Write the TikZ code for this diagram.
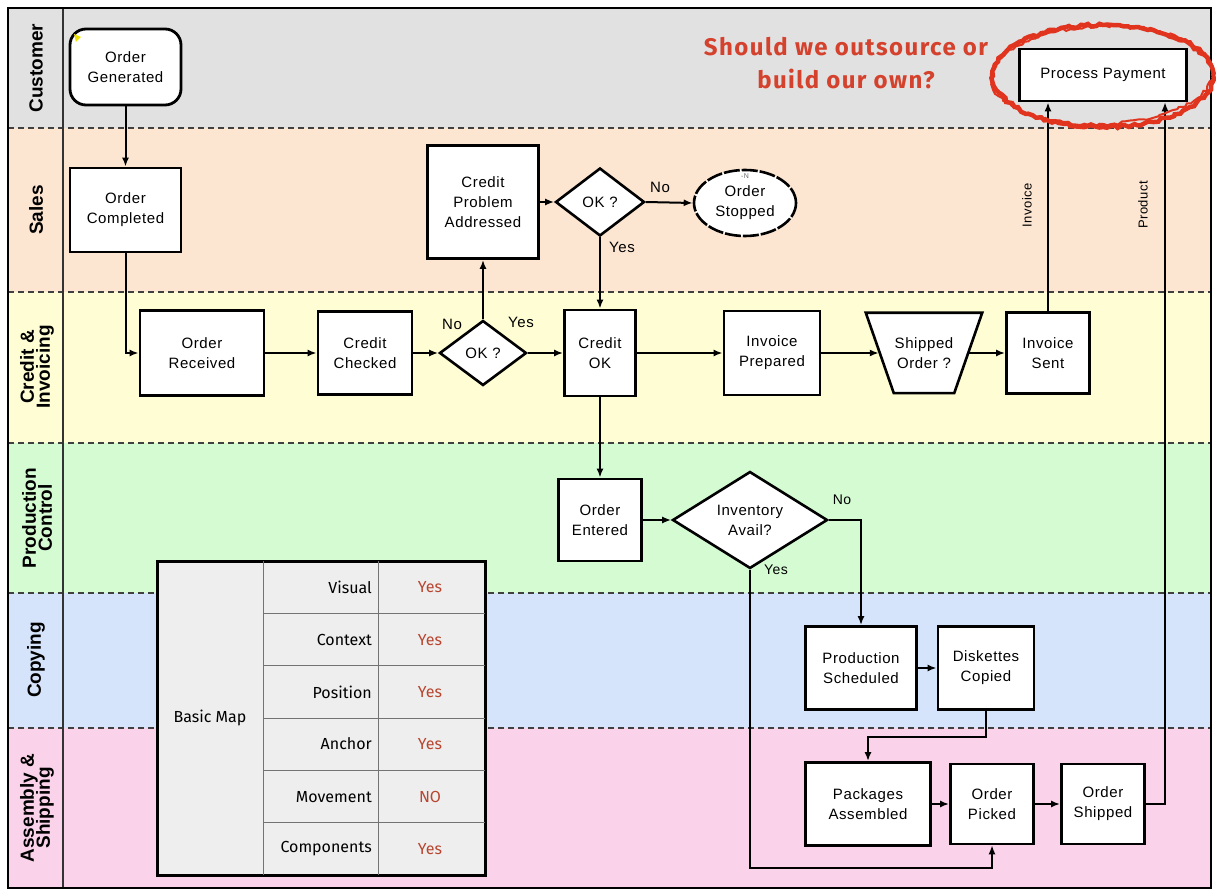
\documentclass[tikz,border=0pt]{standalone}
\usepackage{fontspec}
\usetikzlibrary{shapes.geometric,arrows.meta,decorations.pathmorphing}
\newfontfamily\nodefont{Liberation Sans}[LetterSpace=4]
\newfontfamily\lanefont{Liberation Sans}[LetterSpace=0]
\newfontfamily\handfont{Fira Sans}
\newfontfamily\handwide{Fira Sans}[LetterSpace=6]
\definecolor{laneA}{HTML}{E1E1E1}
\definecolor{laneB}{HTML}{FCE6D2}
\definecolor{laneC}{HTML}{FEFDD3}
\definecolor{laneD}{HTML}{D5FBD3}
\definecolor{laneE}{HTML}{D5E4FA}
\definecolor{laneF}{HTML}{FAD2E9}
\definecolor{handred}{HTML}{D4412C}
\definecolor{ringred}{HTML}{E0341F}
\definecolor{tabred}{HTML}{B8452F}
\definecolor{tabgray}{HTML}{EEEEEE}
\tikzset{
  nfont/.style={font=\nodefont\fontsize{15}{20}\selectfont},
  box/.style={draw, line width=2.8pt, fill=white, align=center, nfont, inner sep=1pt},
  rbox/.style={box, rounded corners=16pt},
  dia/.style={draw, diamond, line width=2.6pt, fill=white, align=center, nfont, inner sep=0pt},
  ell/.style={draw, ellipse, line width=2.6pt, fill=white, align=center, nfont, inner sep=0pt, dash pattern=on 16pt off 2pt},
  traptext/.style={align=center, nfont, inner sep=0pt},
  trapline/.style={draw, line width=2.6pt, fill=white, line join=miter},
  conn/.style={line width=2pt, -{Latex[length=9pt,width=7pt]}},
  thinconn/.style={line width=1.4pt, -{Latex[length=9pt,width=7pt]}},
  lbl/.style={nfont, inner sep=0pt},
  sidelbl/.style={font=\nodefont\fontsize{13}{15}\selectfont, rotate=90, inner sep=0pt},
  lanelbl/.style={font=\lanefont\bfseries\fontsize{19}{19}\selectfont, rotate=90, align=center, inner sep=0pt},
  lanesep/.style={line width=1.4pt, dash pattern=on 6pt off 4pt, draw=black!75},
  tabtxt/.style={font=\handfont\fontsize{16}{18}\selectfont, inner sep=0pt},
  tabval/.style={tabtxt, text=tabred},
  sketch/.style={draw=ringred, line width=4.5pt, decorate, decoration={random steps, segment length=4pt, amplitude=1.5pt}}
}
\begin{document}
\begin{tikzpicture}[x=1pt,y=-1pt]
\useasboundingbox (0,0) rectangle (1216,890);
% lanes
\fill[laneA] (8,8) rectangle (1211,128);
\fill[laneB] (8,128) rectangle (1211,292);
\fill[laneC] (8,292) rectangle (1211,443);
\fill[laneD] (8,443) rectangle (1211,593);
\fill[laneE] (8,593) rectangle (1211,728);
\fill[laneF] (8,728) rectangle (1211,888);
\foreach \yy in {128,292,443,593,728} \draw[lanesep] (8,\yy) -- (1211,\yy);
\draw[line width=1.3pt, draw=black!80] (63,8) -- (63,888);
\draw[line width=2.6pt] (8,8) rectangle (1211,888);
% lane labels
\node[lanelbl] (lc) at (36,68) {Customer};
\node[lanelbl] (ls) at (36,210) {Sales};
\node[lanelbl] (lci) at (37,367) {Credit \&\\[-3pt]Invoicing};
\node[lanelbl] (lpc) at (37,518) {Production\\[-3pt]Control};
\node[lanelbl] (lcp) at (36,660) {Copying};
\node[lanelbl] (las) at (37,808) {Assembly \&\\[-3pt]Shipping};

% nodes
\node[rbox, minimum width=111, minimum height=76] (og) at (125.5,67) {Order\\Generated};
\fill[yellow!85!olive] (74,34) -- (81,37) -- (76,42) -- cycle;
\node[box, minimum width=111, minimum height=84] (oc) at (125.5,210) {Order\\Completed};
\node[box, minimum width=124, minimum height=85] (orx) at (202,353) {Order\\Received};
\node[box, minimum width=94, minimum height=83] (cc) at (365,353) {Credit\\Checked};
\node[dia, minimum width=87, minimum height=65] (ok1) at (483,353) {OK ?};
\node[box, minimum width=111, minimum height=113] (cpa) at (483,202) {Credit\\Problem\\Addressed};
\node[dia, minimum width=89, minimum height=68] (ok2) at (600,202) {OK ?};
\node[ell, minimum width=102, minimum height=66] (os) at (745,203) {Order\\Stopped};
\node[font=\nodefont\fontsize{7}{7}\selectfont, text=black!60, inner sep=0pt] (osn) at (745,176) {-N};
\node[box, minimum width=71, minimum height=86] (cok) at (600,353) {Credit\\OK};
\node[box, minimum width=96, minimum height=84] (ip) at (772,353) {Invoice\\Prepared};
% trapezoid (top 116 wide, bottom 60 wide, 80 high)
\node[traptext, minimum width=116, minimum height=80] (so) at (924,353) {};
\draw[trapline] (so.north west) -- (so.north east) -- ([xshift=-28pt]so.south east) -- ([xshift=28pt]so.south west) -- cycle;
\node[traptext] (sot) at (so.center) {Shipped\\Order ?};
\node[box, minimum width=83, minimum height=81] (is) at (1048,353) {Invoice\\Sent};
\node[box, minimum width=167, minimum height=52] (pp) at (1103,75) {Process Payment};
\node[box, minimum width=83, minimum height=82] (oe) at (600,520) {Order\\Entered};
\node[dia, minimum width=155, minimum height=87] (inv) at (750,520) {Inventory\\Avail?};
\node[box, minimum width=111, minimum height=83] (ps) at (861,668) {Production\\Scheduled};
\node[box, minimum width=96, minimum height=83] (dc) at (986,668) {Diskettes\\Copied};
\node[box, minimum width=125, minimum height=83] (pa) at (868,804) {Packages\\Assembled};
\node[box, minimum width=83, minimum height=80] (opk) at (992,804) {Order\\Picked};
\node[box, minimum width=83, minimum height=80] (osh) at (1103,804) {Order\\Shipped};

% coordinates for bends
\coordinate (yc) at (992,868);
\coordinate (dk) at (986,737);
\coordinate (pr) at (1165,804);

% connectors
\draw[conn] (og) -- (oc);
\draw[conn] (oc.south) |- (orx.west);
\draw[conn] (orx) -- (cc);
\draw[conn] (cc) -- (ok1);
\draw[conn] (ok1) -- (cok);
\draw[conn] (ok1.north) -- (cpa.south);
\draw[conn] (cpa.east) -- (ok2.west);
\draw[conn] (ok2.east) -- (os.west);
\draw[conn] (ok2.south) -- (cok.north);
\draw[conn] (cok) -- (ip);
\draw[conn] (ip.east) -- ([xshift=13pt]so.west);
\draw[conn] ([xshift=-13pt]so.east) -- (is.west);
\draw[conn] (is.north) -- (is.north |- pp.south);
\draw[conn] (cok) -- (oe);
\draw[conn] (oe) -- (inv);
\draw[conn] (inv.east) -| (ps.north);
\draw[thinconn] (inv.south) |- (yc) -- (opk.south);
\draw[conn] (ps) -- (dc);
\draw[conn] (dc.south) -- (dk) -| (pa.north);
\draw[conn] (pa) -- (opk);
\draw[conn] (opk) -- (osh);
\draw[thinconn] (osh.east) -- (pr) -- (pr |- pp.south);

% connector labels
\node[lbl] (n1) at (452,324) {No};
\node[lbl] (y1) at (521,322) {Yes};
\node[lbl] (n2) at (660,187) {No};
\node[lbl] (y2) at (622,247) {Yes};
\node[lbl, font=\nodefont\fontsize{14}{16}\selectfont] (n3) at (842,500) {No};
\node[lbl, font=\nodefont\fontsize{14}{16}\selectfont] (y3) at (776,570) {Yes};
\node[sidelbl] (tinv) at (1027,205) {Invoice};
\node[sidelbl] (tprod) at (1143,205) {Product};

% red annotation
\node[font=\handwide\bfseries\fontsize{24}{33}\selectfont, text=handred, align=center, inner sep=0pt] (q) at (846,63) {Should we outsource or\\build our own?};
\draw[sketch] (1103,76) ellipse [x radius=110, y radius=51];
\draw[sketch, line width=2pt, rotate around={2:(1103,76)}] (1102,75) ellipse [x radius=111, y radius=49];

% table
\draw[line width=3pt, fill=tabgray] (157,561) rectangle (485,875);
\draw[line width=0.9pt, draw=black!55] (263,561) -- (263,875) (378,561) -- (378,875);
\foreach \yy in {613.3,665.7,718,770.3,822.7} \draw[line width=0.9pt, draw=black!55] (263,\yy) -- (485,\yy);
\node[tabtxt] (tbm) at (210,718) {Basic Map};
\node[tabtxt, anchor=east] (t1) at (372,587) {Visual};
\node[tabtxt, anchor=east] (t2) at (372,640) {Context};
\node[tabtxt, anchor=east] (t3) at (372,692) {Position};
\node[tabtxt, anchor=east] (t4) at (372,744) {Anchor};
\node[tabtxt, anchor=east] (t5) at (372,797) {Movement};
\node[tabtxt, anchor=east] (t6) at (372,849) {Components};
\node[tabval] (v1) at (430,587) {Yes};
\node[tabval] (v2) at (430,640) {Yes};
\node[tabval] (v3) at (430,692) {Yes};
\node[tabval] (v4) at (430,744) {Yes};
\node[tabval] (v5) at (430,797) {NO};
\node[tabval] (v6) at (430,849) {Yes};
\end{tikzpicture}
\end{document}
